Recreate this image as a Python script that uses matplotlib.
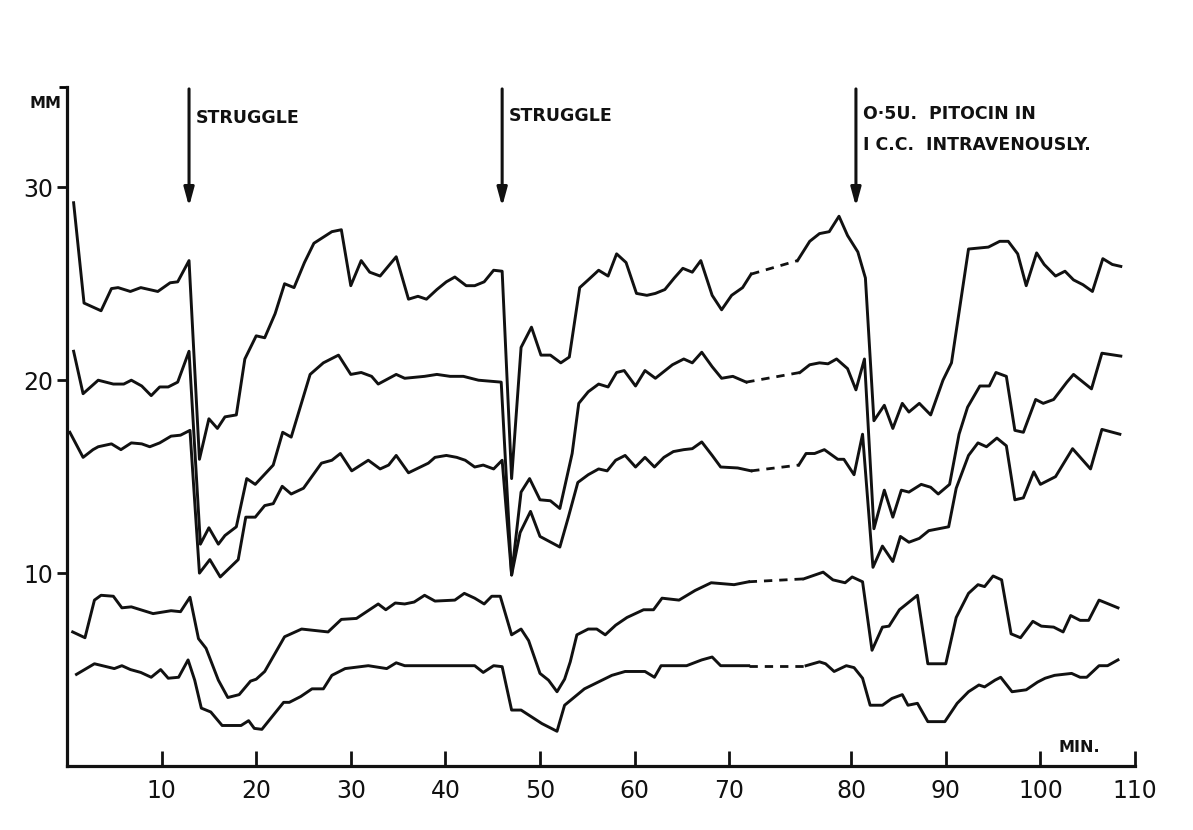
import numpy as np
import matplotlib.pyplot as plt

# Data (minutes, mm)
#----------------------------------
xA = [0.7, 1.8, 3.6, 4.7, 5.4, 6.7, 7.8, 9.6, 10.9, 11.7, 12.9, 14.0, 15.0, 15.9, 16.7, 17.9,
      18.8, 20.0, 20.9, 22.0, 23.0, 24.0, 25.1, 26.1, 28.0, 29.0, 30.0, 31.1, 32.0, 33.1, 34.8,
      36.1, 37.1, 38.0, 39.1, 40.1, 41.0, 42.2, 43.1, 44.1, 45.1, 46.0, 47.0, 48.0, 49.1, 50.1,
      51.1, 52.2, 53.1, 54.2, 55.1, 56.2, 57.2, 58.1, 59.1, 60.2, 61.3, 62.2, 63.2, 64.2, 65.1,
      66.1, 67.0, 68.2, 69.2, 70.2, 71.1, 71.8,
      75.6, 76.6, 77.4, 78.2, 79.0, 79.7, 80.7, 81.5, 82.4, 83.5, 84.4, 85.4, 86.1, 87.2, 88.4,
      89.7, 90.6, 92.4, 94.5, 95.7, 96.6, 97.6, 98.5, 99.6, 100.4, 101.6, 102.6, 103.5, 104.5,
      105.5, 106.6, 107.6, 108.5]
yA = [29.2, 24.0, 23.6, 24.75, 24.8, 24.6, 24.8, 24.6, 25.05, 25.1, 26.2, 15.9, 18.0, 17.5, 18.1, 18.2,
      21.1, 22.3, 22.2, 23.45, 25.0, 24.8, 26.1, 27.1, 27.7, 27.8, 24.9, 26.2, 25.6, 25.4, 26.4,
      24.2, 24.35, 24.2, 24.7, 25.1, 25.35, 24.9, 24.9, 25.1, 25.7, 25.65, 14.9, 21.7, 22.75, 21.3,
      21.3, 20.9, 21.2, 24.8, 25.2, 25.7, 25.4, 26.55, 26.1, 24.5, 24.4, 24.5, 24.7, 25.3, 25.8,
      25.6, 26.2, 24.4, 23.65, 24.4, 24.8, 25.5,
      26.2, 27.2, 27.6, 27.7, 28.5, 27.5, 26.65, 25.3, 17.9, 18.7, 17.5, 18.8, 18.35, 18.8, 18.2,
      20.0, 20.9, 26.8, 26.9, 27.2, 27.2, 26.55, 24.9, 26.6, 26.0, 25.4, 25.65, 25.2, 24.95,
      24.6, 26.3, 26.0, 25.9]

xB = [0.7, 1.7, 3.3, 4.9, 6.0, 6.8, 7.9, 8.9, 9.8, 10.7, 11.7, 12.9, 14.1, 15.0, 16.0, 16.7, 17.9,
      19.0, 19.9, 21.8, 22.8, 23.7, 25.7, 27.1, 28.7, 30.0, 31.1, 32.2, 32.9, 34.8, 35.7, 37.8,
      39.1, 40.5, 41.9, 43.5, 45.9, 47.0, 48.0, 48.9, 50.0, 51.1, 52.1, 53.4, 54.1, 55.1, 56.2,
      57.2, 58.1, 58.9, 60.1, 61.1, 62.2, 64.0, 65.2, 66.1, 67.1, 68.2, 69.2, 70.3, 71.4,
      75.8, 76.6, 77.4, 78.1, 78.8, 79.7, 80.5, 81.4, 82.4, 83.5, 84.4, 85.3, 86.1, 87.4, 88.4,
      89.2, 90.4, 91.4, 92.3, 93.6, 94.6, 95.3, 96.4, 97.3, 98.2, 99.5, 100.3, 101.4, 102.8,
      103.5, 105.4, 106.5, 108.5]
yB = [21.5, 19.3, 20.0, 19.8, 19.8, 20.0, 19.7, 19.2, 19.65, 19.65, 19.9, 21.5, 11.5, 12.35, 11.5, 11.95, 12.4,
      14.9, 14.6, 15.6, 17.3, 17.05, 20.3, 20.9, 21.3, 20.3, 20.4, 20.2, 19.8, 20.3, 20.1, 20.2,
      20.3, 20.2, 20.2, 20.0, 19.9, 9.9, 14.2, 14.9, 13.8, 13.75, 13.35, 16.2, 18.8, 19.4, 19.8,
      19.65, 20.4, 20.5, 19.7, 20.5, 20.1, 20.8, 21.1, 20.9, 21.45, 20.7, 20.1, 20.2, 19.9,
      20.4, 20.8, 20.9, 20.85, 21.1, 20.6, 19.5, 21.1, 12.3, 14.3, 12.9, 14.3, 14.2, 14.6, 14.45,
      14.1, 14.6, 17.2, 18.6, 19.7, 19.7, 20.4, 20.2, 17.4, 17.3, 19.0, 18.8, 19.0, 19.9,
      20.3, 19.55, 21.4, 21.25]

xC = [0.3, 1.7, 2.75, 3.3, 4.7, 5.7, 6.8, 7.9, 8.75, 9.8, 11.0, 12.0, 13.0, 14.0, 15.1, 16.2, 18.1,
      18.9, 19.9, 20.9, 21.8, 22.75, 23.7, 25.0, 26.9, 28.0, 28.9, 30.1, 31.85, 33.1, 34.0, 34.8,
      36.1, 38.2, 38.9, 40.1, 41.2, 42.1, 43.1, 44.0, 45.1, 46.0, 47.0, 47.9, 49.0, 50.0, 52.1,
      53.0, 54.0, 55.1, 56.2, 57.1, 58.0, 59.0, 60.1, 61.1, 62.1, 63.1, 64.1, 65.2, 66.1, 67.1,
      68.2, 69.1, 70.7, 71.8,
      75.7, 76.3, 77.0, 77.8, 78.9, 79.4, 80.3, 81.2, 82.3, 83.3, 84.4, 85.2, 86.1, 87.2, 88.2,
      90.3, 91.1, 92.4, 93.4, 94.3, 95.4, 96.4, 97.3, 98.2, 99.3, 100.0, 101.6, 103.4, 105.3,
      106.5, 108.4]
yC = [17.3, 16.0, 16.4, 16.55, 16.7, 16.4, 16.75, 16.7, 16.55, 16.75, 17.1, 17.15, 17.4, 10.0, 10.7, 9.8, 10.7,
      12.9, 12.9, 13.5, 13.6, 14.5, 14.1, 14.4, 15.7, 15.85, 16.2, 15.3, 15.85, 15.4, 15.6, 16.1,
      15.2, 15.7, 16.0, 16.1, 16.0, 15.85, 15.5, 15.6, 15.4, 15.85, 9.9, 12.1, 13.2, 11.9, 11.35,
      12.9, 14.7, 15.1, 15.4, 15.3, 15.85, 16.1, 15.5, 16.0, 15.5, 16.0, 16.3, 16.4, 16.45, 16.8,
      16.1, 15.5, 15.45, 15.3,
      15.6, 16.2, 16.2, 16.4, 15.9, 15.9, 15.1, 17.2, 10.3, 11.4, 10.6, 11.9, 11.6, 11.8, 12.2,
      12.4, 14.4, 16.1, 16.75, 16.55, 17.0, 16.6, 13.8, 13.9, 15.25, 14.6, 15.0, 16.45, 15.4,
      17.45, 17.2]

xD = [0.6, 1.9, 2.9, 3.6, 4.9, 5.8, 6.8, 9.1, 11.0, 12.0, 13.0, 13.9, 14.7, 16.0, 17.0, 18.2, 19.4,
      20.0, 20.9, 23.0, 24.8, 27.6, 29.0, 30.6, 32.9, 33.7, 34.7, 35.7, 36.7, 37.8, 38.9, 41.0,
      42.0, 43.1, 44.1, 44.9, 45.8, 47.0, 48.0, 48.8, 50.0, 50.9, 51.8, 52.6, 53.2, 53.9, 55.1,
      56.0, 56.9, 58.0, 59.2, 60.95, 62.0, 62.9, 64.7, 66.4, 68.1, 70.4, 71.6,
      76.1, 77.7, 78.5, 79.5, 80.1, 81.2, 82.2, 83.3, 84.0, 85.1, 87.0, 88.1, 90.0, 91.1, 92.4,
      93.4, 94.1, 95.0, 95.9, 96.9, 97.9, 99.2, 100.1, 101.4, 102.4, 103.2, 104.2, 105.1, 106.2,
      108.2]
yD = [6.95, 6.65, 8.6, 8.85, 8.8, 8.2, 8.25, 7.9, 8.05, 8.0, 8.75, 6.6, 6.1, 4.45, 3.55, 3.7, 4.4,
      4.5, 4.9, 6.7, 7.1, 6.95, 7.6, 7.65, 8.4, 8.1, 8.45, 8.4, 8.5, 8.85, 8.55, 8.6,
      8.95, 8.7, 8.4, 8.8, 8.8, 6.8, 7.1, 6.5, 4.8, 4.45, 3.85, 4.5, 5.4, 6.8, 7.1,
      7.1, 6.8, 7.3, 7.7, 8.1, 8.1, 8.7, 8.6, 9.1, 9.5, 9.4, 9.55,
      9.7, 10.05, 9.65, 9.5, 9.8, 9.55, 6.0, 7.2, 7.25, 8.1, 8.85, 5.3, 5.3, 7.7, 8.95,
      9.4, 9.3, 9.85, 9.65, 6.85, 6.65, 7.5, 7.25, 7.2, 6.95, 7.8, 7.55, 7.55, 8.6,
      8.2]

xE = [1.0, 2.9, 5.0, 5.8, 6.7, 7.8, 8.9, 9.9, 10.7, 11.8, 12.8, 13.5, 14.2, 15.2, 16.4, 18.4, 19.2,
      19.8, 20.6, 22.9, 23.5, 24.7, 25.9, 27.1, 28.0, 29.4, 31.85, 33.8, 34.8, 35.7, 43.1, 44.0,
      45.1, 46.0, 47.0, 48.0, 50.2, 51.8, 52.6, 54.7, 57.6, 59.0, 61.1, 62.1, 62.8, 65.5, 67.1,
      68.2, 69.1, 71.6,
      76.3, 77.4, 77.9, 78.6, 79.6, 80.3, 81.2, 82.0, 83.3, 84.3, 85.4, 86.0, 87.0, 88.1, 89.9,
      91.2, 92.4, 93.5, 94.1, 95.2, 95.8, 97.0, 98.5, 99.7, 100.5, 101.5, 103.3, 104.2, 104.9,
      106.2, 107.1, 108.2]
yE = [4.75, 5.3, 5.05, 5.2, 5.0, 4.85, 4.6, 5.0, 4.55, 4.6, 5.5, 4.45, 3.0, 2.8, 2.1, 2.1, 2.35,
      1.95, 1.9, 3.3, 3.3, 3.6, 4.0, 4.0, 4.7, 5.05, 5.2, 5.05, 5.35, 5.2, 5.2, 4.85,
      5.2, 5.15, 2.9, 2.9, 2.2, 1.8, 3.15, 4.0, 4.7, 4.9, 4.9, 4.6, 5.2, 5.2, 5.5,
      5.65, 5.2, 5.2,
      5.2, 5.4, 5.3, 4.9, 5.2, 5.1, 4.55, 3.15, 3.15, 3.5, 3.7, 3.15, 3.25, 2.3, 2.3,
      3.25, 3.85, 4.2, 4.1, 4.45, 4.6, 3.85, 3.95, 4.35, 4.55, 4.7, 4.8, 4.6, 4.6,
      5.2, 5.2, 5.5]

series = [(xA, yA), (xB, yB), (xC, yC), (xD, yD), (xE, yE)]
gap_at = 73.5   # readings missing here, drawn dotted

xticks = [10, 20, 30, 40, 50, 60, 70, 80, 90, 100, 110]
yticks = [10, 20, 30]

events = [12.9, 46.0, 80.5]
event_text = ['STRUGGLE', 'STRUGGLE', 'O\u00b75U.  PITOCIN IN\nI C.C.  INTRAVENOUSLY.']
event_texty = [33.6, 33.7, 33.0]

# the hand-drawn time axis is stretched between 70 and 80 min
tk_in = [-50, 70, 80, 200]
tk_out = [-50, 70, 82.9, 202.9]
def fwd(x):
    return np.interp(x, tk_in, tk_out)
def inv(x):
    return np.interp(x, tk_out, tk_in)

#plot
#----------------------------------
fig = plt.figure(figsize=(11.93, 8.30), dpi=100)
ax = fig.add_axes([67/1193, 64/830, 1068/1193, 679/830])
ax.set_xscale('function', functions=(fwd, inv))

ink = '#111111'
for x, y in series:
    x = np.array(x); y = np.array(y)
    g = np.searchsorted(x, gap_at) - 1
    ax.plot(x[:g+1], y[:g+1], color=ink, lw=2.1)
    ax.plot(x[g:g+2], y[g:g+2], color=ink, lw=2.0, linestyle=(0, (3, 2.5)))
    ax.plot(x[g+1:], y[g+1:], color=ink, lw=2.1)

ax.set_xlim(0, 110)
ax.set_ylim(0, 35.2)

for s in ['top', 'right']:
    ax.spines[s].set_visible(False)
for s in ['left', 'bottom']:
    ax.spines[s].set_linewidth(2.3)
    ax.spines[s].set_color(ink)

ax.set_xticks(xticks)
ax.set_xticklabels([str(t) for t in xticks])
ax.set_yticks(yticks)
ax.set_yticklabels([str(t) for t in yticks])
ax.set_yticks([35.2], minor=True)
ax.xaxis.set_minor_locator(plt.NullLocator())
ax.tick_params(axis='x', direction='in', length=11, width=2, pad=9,
               labelsize=17, colors=ink)
ax.tick_params(axis='y', direction='out', length=7, width=2, pad=3,
               labelsize=17, colors=ink)
ax.tick_params(axis='y', which='minor', direction='out', length=6, width=2)

for xe, txt, ty in zip(events, event_text, event_texty):
    ax.annotate('', xy=(xe, 29.0), xytext=(xe, 35.1),
                arrowprops=dict(arrowstyle='-|>,head_length=1.1,head_width=0.3',
                                color=ink, lw=2.2, shrinkA=0, shrinkB=0),
                annotation_clip=False)
    ax.text(xe + 0.7, ty, txt, fontsize=12.5, fontweight='bold', color=ink,
            va='center', ha='left', linespacing=1.98)

fig.text(30/1193, 1 - 103/830, 'MM', fontsize=11.5, fontweight='bold', color=ink,
         ha='left', va='center')
fig.text(1059/1193, 1 - 747/830, 'MIN.', fontsize=11.5, fontweight='bold', color=ink,
         ha='left', va='center')

plt.savefig('out.png', dpi=100)
